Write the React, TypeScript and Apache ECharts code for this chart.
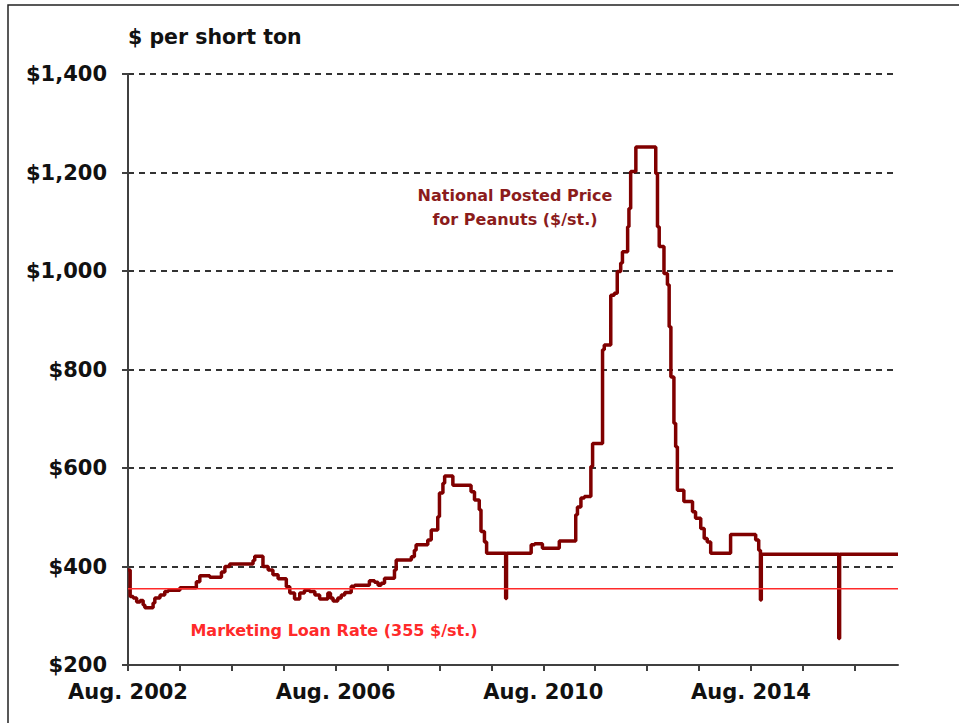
import React, { useEffect, useRef } from "react";
import * as echarts from "echarts";

// Months since Aug. 2002 at which each posted-price level starts
const priceMonths = [
  0, 0.5, 1.2, 2.0, 2.8, 3.5, 3.9, 5.8, 6.2, 7.4,
  8.5, 9.3, 12.0, 15.8, 16.6, 18.9, 21.6, 22.4, 23.5, 28.9,
  29.3, 31.2, 32.4, 33.5, 34.7, 36.6, 37.4, 38.5, 39.7, 40.8,
  42.0, 43.2, 44.3, 46.2, 46.8, 47.4, 48.5, 49.3, 50.1, 51.6,
  52.4, 55.8, 57.0, 57.8, 58.5, 59.3, 61.6, 62.0, 65.5, 66.2,
  66.6, 69.3, 70.1, 71.6, 72.0, 72.8, 73.2, 75.1, 79.3, 80.1,
  81.2, 81.6, 82.4, 82.9, 87.3, 87.5, 93.2, 94.0, 95.8, 99.7,
  103.5, 103.9, 104.7, 105.5, 107.0, 107.4, 109.7, 110.1, 111.6, 112.4,
  113.1, 113.9, 114.3, 115.5, 115.8, 116.2, 117.4, 122.0, 122.4, 122.8,
  123.9, 124.7, 125.1, 125.5, 126.2, 126.6, 127.0, 128.5, 130.5, 131.2,
  132.4, 133.2, 133.9, 134.7, 139.3, 145.1, 145.8, 146.2, 146.4, 164.3,
  164.5, 178,
];

// National posted price for peanuts ($ per short ton)
const priceValues = [
  393, 339, 336, 328, 331, 322, 316, 326, 336, 342,
  349, 352, 357, 369, 381, 378, 389, 400, 405, 412,
  421, 400, 393, 383, 375, 359, 346, 334, 346, 352,
  349, 342, 334, 346, 336, 330, 336, 342, 347, 360,
  362, 371, 368, 362, 366, 376, 393, 413, 420, 433,
  444, 454, 474, 501, 549, 569, 584, 565, 552, 535,
  515, 471, 450, 427, 335, 427, 444, 446, 437, 452,
  505, 521, 539, 542, 603, 650, 840, 850, 951, 955,
  999, 1016, 1039, 1090, 1127, 1202, 1252, 1198, 1090, 1050,
  995, 972, 887, 785, 691, 643, 555, 532, 511, 498,
  477, 457, 450, 427, 465, 454, 433, 332, 425, 254,
  425, 425,
];

const loanRate = 355;
const xMaxMonth = 178;
const xTickMonths = [0, 12, 24, 36, 48, 60, 72, 84, 96, 108, 120, 132, 144, 156, 168];
const xLabelMonths = [0, 48, 96, 144];
const xLabels = ["Aug. 2002", "Aug. 2006", "Aug. 2010", "Aug. 2014"];

const FONT = "DejaVu Sans";

export default function App() {
  const ref = useRef<HTMLDivElement>(null);
  useEffect(() => {
    const chart = echarts.init(ref.current!, null, { renderer: "svg" });
    chart.setOption({
      animation: false,
      backgroundColor: "#ffffff",
      grid: { left: 128, right: 61, top: 74, bottom: 58, containLabel: false },
      xAxis: {
        type: "value",
        min: 0,
        max: xMaxMonth,
        interval: 12,
        axisLine: { show: true, onZero: false, lineStyle: { color: "#404040", width: 2 } },
        axisTick: {
          show: true,
          length: 6,
          customValues: xTickMonths,
          lineStyle: { color: "#404040", width: 2 },
        },
        axisLabel: {
          customValues: xLabelMonths,
          formatter: (v: number) => {
            const i = xLabelMonths.indexOf(v);
            return i >= 0 ? xLabels[i] : "";
          },
          margin: 16,
          fontSize: 21,
          fontWeight: "bold",
          fontFamily: FONT,
          color: "#111111",
        },
        splitLine: { show: false },
      },
      yAxis: {
        type: "value",
        min: 200,
        max: 1400,
        interval: 200,
        axisLine: { show: true, lineStyle: { color: "#404040", width: 2 } },
        axisTick: { show: true, length: 6, lineStyle: { color: "#404040", width: 2 } },
        axisLabel: {
          formatter: (v: number) => "$" + v.toLocaleString("en-US"),
          margin: 21,
          fontSize: 21,
          fontWeight: "bold",
          fontFamily: FONT,
          color: "#111111",
        },
        splitLine: { show: true, lineStyle: { type: [6, 5], color: "#333333", width: 2 } },
      },
      series: [
        {
          type: "line",
          data: priceMonths.map((m, i) => [m, priceValues[i]]),
          step: "end",
          symbol: "none",
          lineStyle: { color: "#800000", width: 3.5 },
          z: 3,
        },
        {
          type: "line",
          data: [
            [0, loanRate],
            [xMaxMonth, loanRate],
          ],
          symbol: "none",
          lineStyle: { color: "#ff2a2a", width: 1.5 },
          z: 4,
        },
      ],
      graphic: [
        {
          type: "rect",
          silent: true,
          shape: { x: 8, y: 5, width: 1000, height: 1000 },
          style: { fill: "none", stroke: "#222222", lineWidth: 1.5 },
        },
        {
          type: "text",
          silent: true,
          style: {
            x: 128,
            y: 37,
            text: "$ per short ton",
            textVerticalAlign: "middle",
            fontSize: 20.5,
            fontWeight: "bold",
            fontFamily: FONT,
            fill: "#111111",
          },
        },
        {
          type: "text",
          silent: true,
          style: {
            x: 515,
            y: 207,
            text: "National Posted Price\nfor Peanuts ($/st.)",
            textAlign: "center",
            textVerticalAlign: "middle",
            lineHeight: 24,
            fontSize: 16,
            fontWeight: "bold",
            fontFamily: FONT,
            fill: "#8b1c1c",
          },
        },
        {
          type: "text",
          silent: true,
          style: {
            x: 334,
            y: 630,
            text: `Marketing Loan Rate (${loanRate} $/st.)`,
            textAlign: "center",
            textVerticalAlign: "middle",
            fontSize: 16,
            fontWeight: "bold",
            fontFamily: FONT,
            fill: "#ff2a2a",
          },
        },
      ],
    });
    return () => chart.dispose();
  }, []);
  return (
    <div
      ref={ref}
      style={{ position: "absolute", left: 0, top: 0, width: 959, height: 723, background: "#fff" }}
    />
  );
}
